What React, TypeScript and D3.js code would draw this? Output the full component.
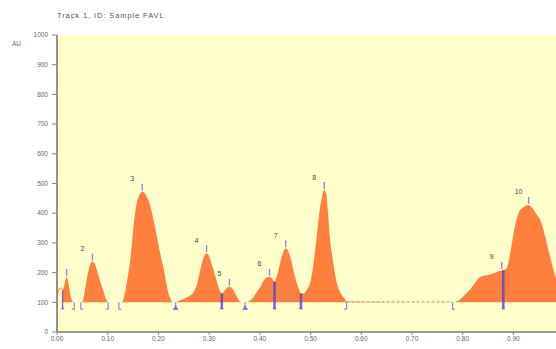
import React from "react";
import * as d3 from "d3";

// Electropherogram trace: retention (x) vs absorbance units (AU)
const traceT = [
  0.000, 0.004, 0.008, 0.011, 0.015, 0.019, 0.023, 0.027, 0.030, 0.034,
  0.047, 0.049, 0.052, 0.055, 0.060, 0.065, 0.070, 0.075, 0.081, 0.087,
  0.092, 0.097, 0.101, 0.128, 0.132, 0.136, 0.140, 0.145, 0.150, 0.154,
  0.158, 0.163, 0.168, 0.172, 0.177, 0.183, 0.190, 0.197, 0.204, 0.211,
  0.216, 0.220, 0.224, 0.228, 0.234, 0.242, 0.252, 0.262, 0.270, 0.276,
  0.282, 0.288, 0.295, 0.300, 0.305, 0.310, 0.316, 0.321, 0.325, 0.330,
  0.335, 0.340, 0.345, 0.350, 0.355, 0.361, 0.366, 0.371, 0.378, 0.385,
  0.392, 0.400, 0.407, 0.413, 0.419, 0.424, 0.429, 0.433, 0.437, 0.443,
  0.447, 0.451, 0.455, 0.460, 0.466, 0.473, 0.478, 0.481, 0.487, 0.493,
  0.499, 0.505, 0.512, 0.518, 0.523, 0.527, 0.531, 0.534, 0.538, 0.545,
  0.552, 0.560, 0.566, 0.571, 0.780, 0.790, 0.800, 0.810, 0.818, 0.826,
  0.834, 0.842, 0.852, 0.862, 0.872, 0.880, 0.886, 0.891, 0.897, 0.903,
  0.910, 0.918, 0.925, 0.930, 0.936, 0.944, 0.953, 0.960, 0.966, 0.973,
  0.979, 0.985, 0.990,
];
const traceAU = [
  120, 145, 148, 140, 160, 186, 160, 120, 104, 100,
  100, 100, 112, 140, 190, 225, 237, 228, 195, 160,
  135, 110, 100, 100, 115, 150, 190, 250, 340, 400,
  440, 462, 472, 470, 455, 430, 380, 321, 260, 209,
  160, 130, 110, 100, 100, 106, 113, 122, 135, 160,
  205, 245, 265, 255, 228, 200, 165, 140, 130, 138,
  148, 152, 147, 135, 118, 102, 100, 100, 103, 112,
  130, 150, 172, 183, 186, 180, 169, 185, 209, 253,
  272, 282, 275, 253, 209, 164, 140, 130, 130, 143,
  164, 220, 321, 410, 460, 478, 465, 410, 321, 230,
  164, 130, 115, 103, 100, 104, 118, 135, 150, 170,
  184, 189, 193, 198, 205, 208, 212, 240, 298, 355,
  400, 418, 426, 428, 420, 400, 377, 340, 298, 250,
  209, 175, 150,
];

// Peak apexes and their numbers (peak at 0.019 carries no number)
const peakT = [0.019, 0.070, 0.168, 0.295, 0.340, 0.419, 0.451, 0.527, 0.877, 0.930];
const peakAU = [186, 237, 472, 265, 152, 186, 282, 478, 209, 428];
const peakNames = ["", "2", "3", "4", "5", "6", "7", "8", "9", "10"];

// Baseline start/end marks, and drop lines between fused peaks
const baseMarkT = [0.034, 0.047, 0.101, 0.122, 0.234, 0.371, 0.571, 0.780];
const baseMarkFoot = [-1, 1, -1, 1, 0, 0, -1, 1];
const dropT = [0.011, 0.325, 0.429, 0.481, 0.880];
const dropAU = [140, 130, 169, 130, 208];
const dropWide = [false, true, true, true, true];

const flatFrom = 0.571;
const flatTo = 0.780;
const baselineAU = 100;

const yTicks = [0, 100, 200, 300, 400, 500, 600, 700, 800, 900, 1000];
const xTicks = [0, 0.1, 0.2, 0.3, 0.4, 0.5, 0.6, 0.7, 0.8, 0.9];

const W = 556;
const H = 349;
const left = 57;
const top = 35;
const bottom = 332;

export default function App() {
  const x = d3.scaleLinear().domain([0, 0.985]).range([left, 556.5]);
  const y = d3.scaleLinear().domain([0, 1000]).range([bottom, top]);

  const pts = traceT.map((t, i) => [t, traceAU[i]] as [number, number]);
  const fillPts = pts.filter((p) => p[0] >= 0.011);
  const leadPts = pts.filter((p) => p[0] <= 0.011);

  const area = d3
    .area<[number, number]>()
    .x((d) => x(d[0]))
    .y0(y(baselineAU))
    .y1((d) => y(d[1]))
    .curve(d3.curveMonotoneX);
  const line = d3
    .line<[number, number]>()
    .x((d) => x(d[0]))
    .y((d) => y(d[1]))
    .curve(d3.curveMonotoneX);

  const font = "Liberation Sans, Arial, sans-serif";
  const blue = "#5b5be6";
  const yb = y(baselineAU);

  return (
    <svg
      width={W}
      height={H}
      style={{ position: "absolute", left: 0, top: 0, background: "#fff" }}
      fontFamily={font}
    >
      <defs>
        <clipPath id="plot">
          <rect x={left} y={top} width={W - left} height={bottom - top} />
        </clipPath>
      </defs>
      <text x={57} y={18} fontSize={7.5} fill="#555" letterSpacing={0.9}>
        Track 1, ID: Sample FAVL
      </text>
      <text x={12} y={46} fontSize={6.5} fill="#666">
        AU
      </text>

      <rect x={left} y={top} width={W - left} height={bottom - top} fill="#ffffcc" />

      <g clipPath="url(#plot)">
        <path d={area(fillPts) ?? ""} fill="#ff7f3f" />
        <path d={line(leadPts) ?? ""} fill="none" stroke="#ffa060" strokeWidth={1.2} />
        <line
          x1={x(flatFrom)}
          x2={x(flatTo)}
          y1={yb - 0.5}
          y2={yb - 0.5}
          stroke="#b8a888"
          strokeWidth={1.2}
          strokeDasharray="3 2"
        />

        {/* apex marks */}
        {peakT.map((t, i) => (
          <line
            key={"ap" + i}
            x1={x(t)}
            x2={x(t)}
            y1={y(peakAU[i]) - 1}
            y2={y(peakAU[i]) - 8}
            stroke={blue}
            strokeOpacity={0.7}
            strokeWidth={1.4}
          />
        ))}

        {/* baseline marks */}
        {baseMarkT.map((t, i) => {
          const px = x(t);
          const f = baseMarkFoot[i];
          return (
            <g key={"bm" + i} stroke={blue} strokeOpacity={0.7} strokeWidth={1.2} fill="none">
              <line x1={px} x2={px} y1={yb} y2={yb + 7} />
              {f === 0 ? (
                <path d={`M${px - 2},${yb + 7} L${px},${yb + 4} L${px + 2},${yb + 7} Z`} fill={blue} fillOpacity={0.5} />
              ) : (
                <line x1={px} x2={px + f * 2.5} y1={yb + 7} y2={yb + 7} />
              )}
            </g>
          );
        })}

        {/* drop lines */}
        {dropT.map((t, i) => {
          const px = x(t);
          return (
            <g key={"dr" + i}>
              <line
                x1={px}
                x2={px}
                y1={y(dropAU[i])}
                y2={yb + 7}
                stroke="#5548c8"
                strokeOpacity={0.8}
                strokeWidth={dropWide[i] ? 2.6 : 1.4}
              />
              <path
                d={`M${px - 2.2},${yb + 7} L${px},${yb + 4} L${px + 2.2},${yb + 7} Z`}
                fill={blue}
                fillOpacity={0.5}
              />
            </g>
          );
        })}

        {/* peak numbers */}
        {peakT.map((t, i) =>
          peakNames[i] ? (
            <text
              key={"pn" + i}
              x={x(t) - 10}
              y={y(peakAU[i]) - 10.5}
              fontSize={7}
              fill="#444"
              textAnchor="middle"
            >
              {peakNames[i]}
            </text>
          ) : null
        )}
      </g>

      {/* y axis */}
      <line x1={left} x2={left} y1={top} y2={bottom} stroke="#777" strokeWidth={1.6} />
      {yTicks.map((v) => (
        <g key={"yt" + v}>
          <line x1={left - 5} x2={left} y1={y(v)} y2={y(v)} stroke="#888" strokeWidth={1} />
          <text
            x={left - 9}
            y={y(v)}
            dy="0.35em"
            fontSize={6.5}
            fill="#666"
            textAnchor="end"
          >
            {v}
          </text>
        </g>
      ))}

      {/* x axis */}
      <line x1={left} x2={W} y1={bottom} y2={bottom} stroke="#777" strokeWidth={1.6} />
      {xTicks.map((v) => (
        <g key={"xt" + v}>
          <line x1={x(v)} x2={x(v)} y1={bottom} y2={bottom + 3} stroke="#888" strokeWidth={1} />
          <text x={x(v)} y={bottom + 9} fontSize={6.5} fill="#666" textAnchor="middle">
            {v.toFixed(2)}
          </text>
        </g>
      ))}
    </svg>
  );
}
